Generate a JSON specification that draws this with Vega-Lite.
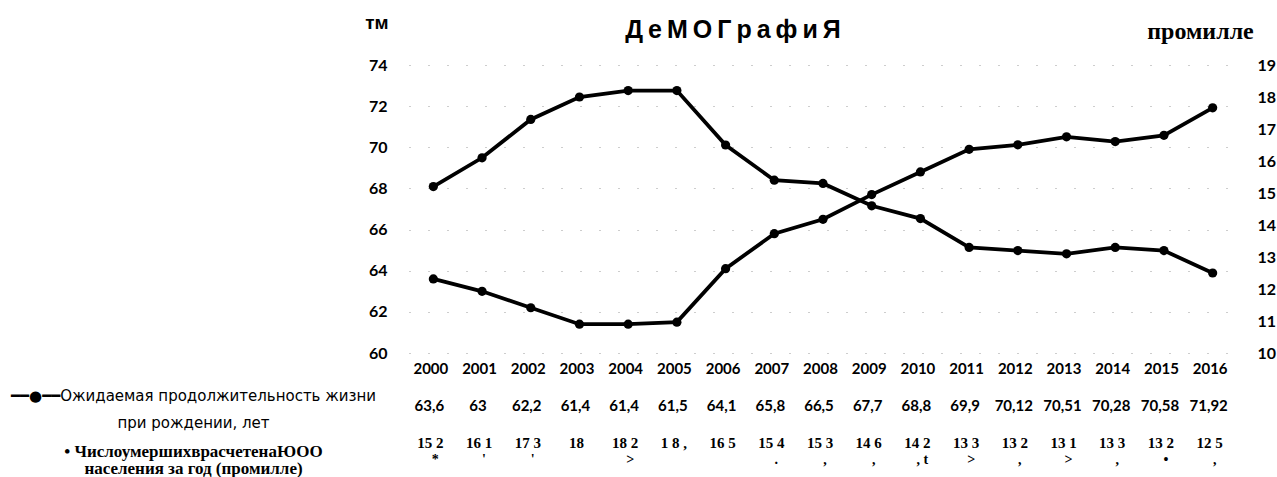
{
  "$schema": "https://vega.github.io/schema/vega-lite/v6.json",
  "padding": {"left": 10, "top": 13, "right": 2, "bottom": 0},
  "background": "white",
  "config": {"view": {"stroke": null}, "concat": {"spacing": 10}},
  "datasets": {
    "demo": [
      {"year": "2000", "life": 63.6, "mort": 15.2, "lifeLabel": "63,6", "mortLabel": "15 2", "mark": "*"},
      {"year": "2001", "life": 63.0, "mort": 16.1, "lifeLabel": "63", "mortLabel": "16 1", "mark": "'"},
      {"year": "2002", "life": 62.2, "mort": 17.3, "lifeLabel": "62,2", "mortLabel": "17 3", "mark": "'"},
      {"year": "2003", "life": 61.4, "mort": 18.0, "lifeLabel": "61,4", "mortLabel": "18", "mark": ""},
      {"year": "2004", "life": 61.4, "mort": 18.2, "lifeLabel": "61,4", "mortLabel": "18 2", "mark": ">"},
      {"year": "2005", "life": 61.5, "mort": 18.2, "lifeLabel": "61,5", "mortLabel": "1 8 ,", "mark": ""},
      {"year": "2006", "life": 64.1, "mort": 16.5, "lifeLabel": "64,1", "mortLabel": "16 5", "mark": ""},
      {"year": "2007", "life": 65.8, "mort": 15.4, "lifeLabel": "65,8", "mortLabel": "15 4", "mark": "."},
      {"year": "2008", "life": 66.5, "mort": 15.3, "lifeLabel": "66,5", "mortLabel": "15 3", "mark": ","},
      {"year": "2009", "life": 67.7, "mort": 14.6, "lifeLabel": "67,7", "mortLabel": "14 6", "mark": ","},
      {"year": "2010", "life": 68.8, "mort": 14.2, "lifeLabel": "68,8", "mortLabel": "14 2", "mark": ", t"},
      {"year": "2011", "life": 69.9, "mort": 13.3, "lifeLabel": "69,9", "mortLabel": "13 3", "mark": ">"},
      {"year": "2012", "life": 70.12, "mort": 13.2, "lifeLabel": "70,12", "mortLabel": "13 2", "mark": ","},
      {"year": "2013", "life": 70.51, "mort": 13.1, "lifeLabel": "70,51", "mortLabel": "13 1", "mark": ">"},
      {"year": "2014", "life": 70.28, "mort": 13.3, "lifeLabel": "70,28", "mortLabel": "13 3", "mark": ","},
      {"year": "2015", "life": 70.58, "mort": 13.2, "lifeLabel": "70,58", "mortLabel": "13 2", "mark": "•"},
      {"year": "2016", "life": 71.92, "mort": 12.5, "lifeLabel": "71,92", "mortLabel": "12 5", "mark": ","}
    ]
  },
  "vconcat": [
    {
      "width": 828,
      "height": 288,
      "data": {"name": "demo"},
      "title": {
        "text": "Д\u2009е\u2009М\u2009О\u2009Г\u2009р\u2009а\u2009ф\u2009и\u2009Я",
        "font": "Liberation Sans",
        "fontSize": 25,
        "fontWeight": "bold",
        "color": "black",
        "anchor": "middle",
        "baseline": "alphabetic",
        "offset": 0,
        "dx": -90,
        "dy": 50
      },
      "encoding": {
        "x": {
          "field": "year",
          "type": "ordinal",
          "axis": {
            "labelAngle": 0,
            "labelFont": "Lato",
            "labelFontWeight": "bold",
            "labelFontSize": 15,
            "labelColor": "black",
            "labelPadding": 8.5,
            "labelOffset": -3,
            "ticks": false,
            "domain": false,
            "title": null
          }
        }
      },
      "layer": [
        {
          "mark": {"type": "line", "color": "black", "strokeWidth": 3.8, "point": {"filled": true, "size": 85, "color": "black"}},
          "encoding": {
            "y": {
              "field": "life",
              "type": "quantitative",
              "scale": {"domain": [60, 74], "nice": false, "zero": false},
              "axis": {
                "orient": "left",
                "values": [60, 62, 64, 66, 68, 70, 72, 74],
                "labelFont": "Lato",
                "labelFontWeight": "bold",
                "labelFontSize": 16,
                "labelColor": "black",
                "labelPadding": 22,
                "ticks": false,
                "domain": false,
                "grid": true,
                "gridColor": "#9a9a9a",
                "gridDash": [1, 18],
                "gridWidth": 1,
                "title": "тм",
                "titleAngle": 0,
                "titleAlign": "right",
                "titleBaseline": "middle",
                "titleX": -21,
                "titleY": -43,
                "titleFont": "Liberation Sans",
                "titleFontSize": 19,
                "titleFontWeight": "bold",
                "titleColor": "black"
              }
            }
          }
        },
        {
          "mark": {"type": "line", "color": "black", "strokeWidth": 3.8, "point": {"filled": true, "size": 85, "color": "black"}},
          "encoding": {
            "y": {
              "field": "mort",
              "type": "quantitative",
              "scale": {"domain": [10, 19], "nice": false, "zero": false},
              "axis": {
                "orient": "right",
                "values": [10, 11, 12, 13, 14, 15, 16, 17, 18, 19],
                "labelFont": "Lato",
                "labelFontWeight": "bold",
                "labelFontSize": 16,
                "labelColor": "black",
                "labelPadding": 20,
                "ticks": false,
                "domain": false,
                "grid": false,
                "title": "промилле",
                "titleAngle": 0,
                "titleAlign": "center",
                "titleBaseline": "middle",
                "titleX": -37,
                "titleY": -34,
                "titleFont": "Liberation Serif",
                "titleFontSize": 24,
                "titleFontWeight": "bold",
                "titleColor": "black"
              }
            }
          }
        }
      ],
      "resolve": {"scale": {"y": "independent"}}
    },
    {
      "width": 828,
      "height": 74,
      "data": {"name": "demo"},
      "encoding": {"x": {"field": "year", "type": "ordinal", "axis": null}},
      "layer": [
        {
          "mark": {"type": "text", "font": "Lato", "fontWeight": "bold", "fontSize": 15, "color": "black", "dx": -4, "baseline": "middle"},
          "encoding": {
            "y": {
              "datum": "life",
              "type": "ordinal",
              "scale": {"type": "point", "padding": 0.5, "domain": ["life", "mort"]},
              "axis": {
                "labelExpr": "datum.value == 'life' ? ['━━●━━Ожидаемая продолжительность жизни', 'при рождении, лет'] : ['• ЧислоумершихврасчетенаЮОО', 'населения за год (промилле)']",
                "labelFont": {"condition": {"test": "datum.value == 'mort'", "value": "Liberation Serif"}, "value": "DejaVu Sans"},
                "labelFontWeight": {"condition": {"test": "datum.value == 'mort'", "value": "bold"}, "value": "normal"},
                "labelFontSize": {"condition": {"test": "datum.value == 'mort'", "value": 17}, "value": 15},
                "labelOffset": {"condition": {"test": "datum.value == 'mort'", "value": 9}, "value": -10},
                "labelLineHeight": {"expr": "datum.value == 'mort' ? 17 : 27"},
                "labelAlign": "center",
                "labelBaseline": "middle",
                "labelPadding": 216,
                "labelLimit": 1000,
                "labelColor": "black",
                "ticks": false,
                "domain": false,
                "grid": false,
                "title": null
              }
            },
            "text": {"field": "lifeLabel"}
          }
        },
        {
          "mark": {"type": "text", "font": "Liberation Serif", "fontWeight": "bold", "fontSize": 15, "color": "black", "dx": -3, "baseline": "middle"},
          "encoding": {
            "y": {"datum": "mort", "type": "ordinal"},
            "text": {"field": "mortLabel"}
          }
        },
        {
          "mark": {"type": "text", "font": "Liberation Serif", "fontWeight": "bold", "fontSize": 14, "color": "black", "dx": 2, "dy": 17, "baseline": "middle"},
          "encoding": {
            "y": {"datum": "mort", "type": "ordinal"},
            "text": {"field": "mark"}
          }
        }
      ]
    }
  ]
}
